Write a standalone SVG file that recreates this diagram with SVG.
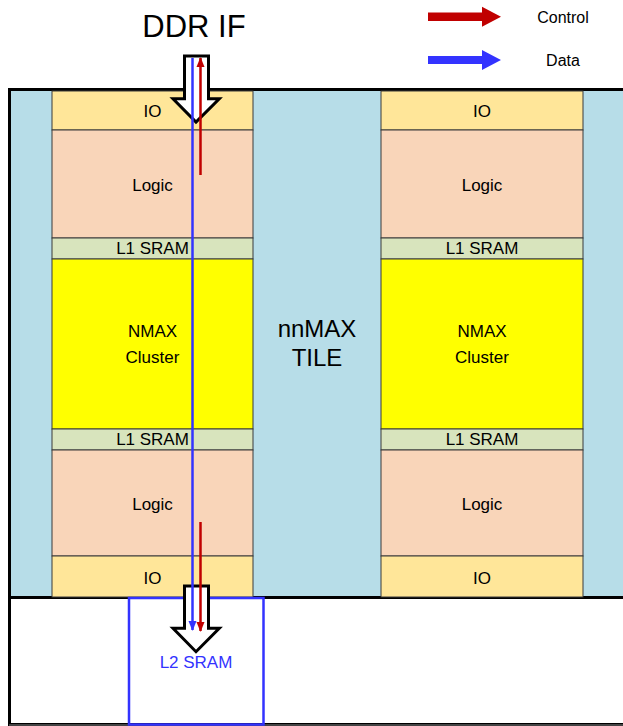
<svg xmlns="http://www.w3.org/2000/svg" width="623" height="726" viewBox="0 0 623 726">
<defs>
<style>
text{font-family:"Liberation Sans",Arial,sans-serif;fill:#000;text-anchor:middle}
.lbl{font-size:17px}
.io{fill:#FFE699;stroke:#3a3a3a;stroke-width:1}
.logic{fill:#F9D5B9;stroke:#3a3a3a;stroke-width:1}
.l1{fill:#D8E4BD;stroke:#3a3a3a;stroke-width:1}
.nmax{fill:#FFFF00;stroke:#3a3a3a;stroke-width:1}
.blk{fill:#fff;stroke:#000;stroke-width:3;stroke-linejoin:miter}
</style>
<marker id="hb" markerUnits="userSpaceOnUse" markerWidth="10" markerHeight="12" refX="9" refY="4" orient="auto" viewBox="0 0 10 8">
<path d="M0,0 L10,4 L0,8 Z" fill="#3333FF"/>
</marker>
<marker id="hr" markerUnits="userSpaceOnUse" markerWidth="10" markerHeight="12" refX="9" refY="4" orient="auto" viewBox="0 0 10 8">
<path d="M0,0 L10,4 L0,8 Z" fill="#C00000"/>
</marker>
</defs>
<rect width="623" height="726" fill="#fff"/>

<g id="tile">
<rect x="9.5" y="89.5" width="625" height="508" fill="#B7DDE8" stroke="#000" stroke-width="3"/>
<text x="317" y="337" style="font-size:24px">nnMAX</text>
<text x="317" y="366" style="font-size:24px">TILE</text>
</g>

<g id="bottom-area">
<path d="M9.5,599 V724.5 H623" fill="none" stroke="#000" stroke-width="3"/>
<path d="M9,725 H623" stroke="#888" stroke-width="1"/>
</g>

<g id="col-left">
<rect class="io" x="52" y="91" width="201" height="39"/>
<rect class="logic" x="52" y="130" width="201" height="108"/>
<rect class="l1" x="52" y="238" width="201" height="21"/>
<rect class="nmax" x="52" y="259" width="201" height="170"/>
<rect class="l1" x="52" y="429" width="201" height="21"/>
<rect class="logic" x="52" y="450" width="201" height="106"/>
<rect class="io" x="52" y="556" width="201" height="41"/>
<text class="lbl" x="152.5" y="117">IO</text>
<text class="lbl" x="152.5" y="191">Logic</text>
<text class="lbl" x="152.5" y="254">L1 SRAM</text>
<text class="lbl" x="152.5" y="337">NMAX</text>
<text class="lbl" x="152.5" y="363">Cluster</text>
<text class="lbl" x="152.5" y="445">L1 SRAM</text>
<text class="lbl" x="152.5" y="510">Logic</text>
<text class="lbl" x="152.5" y="584">IO</text>
</g>

<g id="col-right">
<rect class="io" x="381" y="91" width="202" height="39"/>
<rect class="logic" x="381" y="130" width="202" height="108"/>
<rect class="l1" x="381" y="238" width="202" height="21"/>
<rect class="nmax" x="381" y="259" width="202" height="170"/>
<rect class="l1" x="381" y="429" width="202" height="21"/>
<rect class="logic" x="381" y="450" width="202" height="106"/>
<rect class="io" x="381" y="556" width="202" height="41"/>
<text class="lbl" x="482" y="117">IO</text>
<text class="lbl" x="482" y="191">Logic</text>
<text class="lbl" x="482" y="254">L1 SRAM</text>
<text class="lbl" x="482" y="337">NMAX</text>
<text class="lbl" x="482" y="363">Cluster</text>
<text class="lbl" x="482" y="445">L1 SRAM</text>
<text class="lbl" x="482" y="510">Logic</text>
<text class="lbl" x="482" y="584">IO</text>
</g>

<g id="l2-sram">
<rect x="129" y="598" width="134.5" height="126.5" fill="none" stroke="#3333FF" stroke-width="2.5"/>
<text x="196" y="668" style="font-size:17px;fill:#3333FF">L2 SRAM</text>
</g>

<g id="ddr-if">
<text x="194" y="37" style="font-size:31px">DDR IF</text>
</g>

<g id="connectors">
<polygon class="blk" points="184.5,56 208.5,56 208.5,98.7 219.3,98.7 196,122 173,98.7 184.5,98.7"/>
<polygon class="blk" points="184.5,586 208.5,586 208.5,628.3 219.3,628.3 196,651.7 173,628.3 184.5,628.3"/>
<line x1="192.5" y1="58" x2="192.5" y2="630" stroke="#3333FF" stroke-width="2.5" marker-end="url(#hb)"/>
<line x1="200.5" y1="175" x2="200.5" y2="58" stroke="#C00000" stroke-width="2.5" marker-end="url(#hr)"/>
<line x1="200.5" y1="522" x2="200.5" y2="631" stroke="#C00000" stroke-width="2.5" marker-end="url(#hr)"/>
</g>

<g id="legend">
<polygon points="428,12.5 482,12.5 482,6.7 501,16.7 482,26.7 482,21 428,21" fill="#C00000"/>
<text x="563" y="23" style="font-size:16px">Control</text>
<polygon points="428,56 482,56 482,50 501,60 482,70 482,64 428,64" fill="#3333FF"/>
<text x="563" y="66" style="font-size:16px">Data</text>
</g>
</svg>
